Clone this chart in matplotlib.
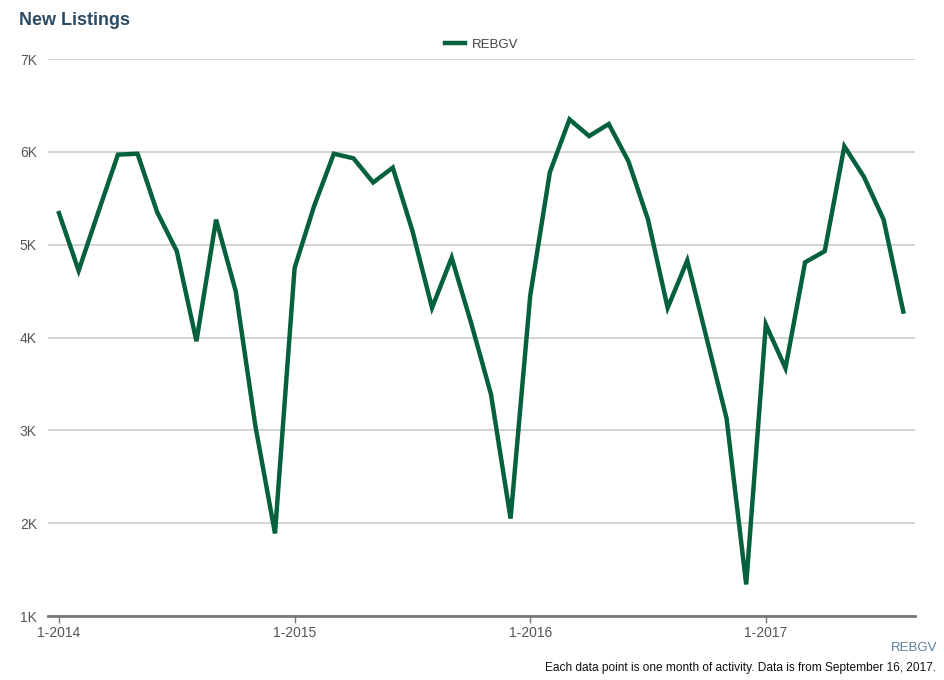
import matplotlib.pyplot as plt

plt.rcParams['font.family'] = ['Liberation Sans', 'DejaVu Sans']

# monthly new listings, Jan 2014 .. Aug 2017
months = list(range(44))
new_listings = [
    5340, 4720, 5350, 5970, 5980, 5350, 4930, 3960, 5270, 4500, 3050, 1890,
    4750, 5420, 5980, 5930, 5670, 5830, 5150, 4320, 4860, 4150, 3390, 2050,
    4450, 5780, 6350, 6170, 6300, 5900, 5270, 4320, 4830, 3980, 3130, 1340,
    4140, 3670, 4810, 4930, 6060, 5730, 5270, 4280,
]
tick_pos = [0, 12, 24, 36]
tick_labels = ["1-2014", "1-2015", "1-2016", "1-2017"]
y_ticks = [1000, 2000, 3000, 4000, 5000, 6000, 7000]
y_labels = ["1K", "2K", "3K", "4K", "5K", "6K", "7K"]

fig = plt.figure(figsize=(9.45, 6.8), dpi=100)
ax = fig.add_axes([0.0508, 0.0941, 0.9175, 0.8191])

line_color = "#05613c"
ax.plot(months, new_listings, color=line_color, linewidth=3.2,
        solid_joinstyle="miter", label="REBGV")

ax.set_xlim(-0.56, 43.6)
ax.set_ylim(1000, 7000)
ax.set_yticks(y_ticks)
ax.set_yticklabels(y_labels)
ax.set_xticks(tick_pos)
ax.set_xticklabels(tick_labels)

ax.grid(axis="y", color="#cccccc", linewidth=1.2)
ax.set_axisbelow(True)
for s in ["top", "right", "left"]:
    ax.spines[s].set_visible(False)
ax.spines["bottom"].set_color("#777777")
ax.spines["bottom"].set_linewidth(2)

ax.tick_params(axis="y", length=0, pad=8, labelsize=10, labelcolor="#555555")
ax.tick_params(axis="x", length=5, width=1, color="#777777", pad=2,
               labelsize=10, labelcolor="#555555")
for lbl in ax.get_yticklabels():
    lbl.set_horizontalalignment("right")

fig.text(0.02, 0.97, "New Listings", fontsize=13, fontweight="bold",
         color="#2b4a63", va="center", ha="left")

leg = ax.legend(loc="lower center", bbox_to_anchor=(0.5, 1.0), frameon=False,
                fontsize=9.5, handlelength=1.5, handletextpad=0.5,
                borderaxespad=0.2)
for t in leg.get_texts():
    t.set_color("#444444")

fig.text(0.992, 0.047, "REBGV", fontsize=9.5, color="#5a7fa0",
         ha="right", va="center")
fig.text(0.99, 0.0176,
         "Each data point is one month of activity. Data is from September 16, 2017.",
         fontsize=8.6, color="#111111", ha="right", va="center")

fig.savefig("out.png", dpi=100)
